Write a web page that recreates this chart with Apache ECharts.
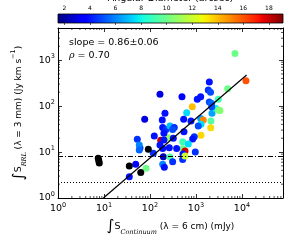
<!DOCTYPE html>
<html><head><meta charset="utf-8">
<script src="https://cdn.jsdelivr.net/npm/echarts@6/dist/echarts.min.js"></script>
<style>html,body{margin:0;padding:0;background:#fff}#c{width:293px;height:245px}</style>
</head><body><div id="c"></div>
<script>
// [continuum 6 cm (mJy), RRL 3 mm (Jy km/s), angular diameter (arcsec)]
const diamSources = [
  [7050,1400,10],[12200,355,16],[1950,333,4],[1850,223,4.5],[2070,201,5],[4890,238,10],
  [1265,159,4],[1067,140,4],[496,159,3.5],[165,180,3],[1950,122,5],[3050,140,9],
  [830,97,14],[628,71.5,7.5],[2195,114,5.5],[2230,69.4,6.5],[2720,89,8],[3110,80.7,10.5],
  [3325,79.8,10.5],[2195,96.6,5],[2120,47.2,9.5],[2090,33.7,13.5],[1265,54,6.5],[1440,49.6,15],
  [1285,40,7.5],[1120,36.7,5],[778,47.2,4],[540,51.4,4],[212,69.4,4],[185,49.6,4],
  [76.7,51.4,3],[189,34.4,4],[223,31.1,4.5],[272,36.7,7],[337,34.4,4.5],[311,31.1,5],
  [548,27.6,4],[1285,23.1,13.5],[918,21.5,4.5],[847,19.2,4],[124,22.3,4],[255,20.5,11],
  [171,18.0,18],[201,18.2,4],[321,19.9,4],[514,16.7,9],[680,14.9,7.5],[514,12.0,10],
  [380,12.0,4],[165,14.2,4],[189,12.0,4],[60.6,12.2,4.5],[263,12.4,4],[966,10.0,4.5],
  [577,10.5,18],[118,9.4,4.5],[195,7.9,2.5],[272,7.8,9.5],[522,9.05,4],[514,6.9,4.5],
  [577,8.2,12],[189,5.4,6],[205,4.65,4],[311,6.15,4.5],[48.9,5.4,3.5],[81.9,4.42,10],
  [35.5,2.9,4],[53,18.9,4.5],[58.5,14.2,6],[58.5,11.1,5.5],[201,25.5,4]
];
// sources without measured diameter (black)
const noDiamSources = [[7.5,7.3],[7.9,5.8],[7.7,6.5],[35.5,5.0],[63,3.6],[92,11.5]];
const fitSlope = 0.86, fitIntercept = -0.85, fitRange = [9.7, 12600];
const dashDotLevel = 8.3, dottedLevel = 2.15;
const xRange = [1, 78000], yRange = [1, 5000];
const cbRange = [1.5, 19.1];
const cbTicks = [2,4,6,8,10,12,14,16,18];
const slopeText = 'slope = 0.86\u00b10.06';
const rhoText = '0.70';

function jet(t){
  const segs = {
    r:[[0,0],[0.35,0],[0.66,1],[0.89,1],[1,0.5]],
    g:[[0,0],[0.125,0],[0.375,1],[0.64,1],[0.91,0],[1,0]],
    b:[[0,0.5],[0.11,1],[0.34,1],[0.65,0],[1,0]]
  };
  function f(s){ for(let i=1;i<s.length;i++){ if(t<=s[i][0]){ const a=s[i-1],b=s[i]; return a[1]+(b[1]-a[1])*(t-a[0])/(b[0]-a[0]); } } return s[s.length-1][1]; }
  return 'rgb('+Math.round(f(segs.r)*255)+','+Math.round(f(segs.g)*255)+','+Math.round(f(segs.b)*255)+')';
}
const jetColors = []; for(let i=0;i<64;i++) jetColors.push(jet(i/63));
const jetStops = jetColors.map((c,i)=>({offset:i/63,color:c}));

const fitLine = fitRange.map(x => [x, Math.pow(10, fitIntercept + fitSlope*Math.log10(x))]);
const minorX = [], minorY = [];
for(let k=0;k<5;k++) for(let m=2;m<10;m++){ const v=m*Math.pow(10,k); if(v<xRange[1]) minorX.push([v, yRange[0]]); if(v<yRange[1]) minorY.push([xRange[0], v]); }

const FONT = 'DejaVu Sans';
function powLabel(v){
  const l = Math.log10(v), e = Math.round(l);
  if (Math.abs(l-e) > 1e-6) return '';
  return '{b|10}{e|' + e + '}';
}
const tickRich = {
  b:{fontSize:9.5,fontFamily:FONT,color:'#000',lineHeight:14,verticalAlign:'middle'},
  e:{fontSize:6.5,fontFamily:FONT,color:'#000',lineHeight:8,verticalAlign:'top'}
};
const nameRich = {
  int:{fontSize:15,fontFamily:FONT,color:'#000',lineHeight:18,verticalAlign:'middle'},
  s:{fontSize:9.5,fontFamily:FONT,color:'#000',lineHeight:18,verticalAlign:'middle'},
  sub:{fontSize:6.5,fontFamily:'DejaVu Serif',fontStyle:'italic',color:'#000',lineHeight:11,verticalAlign:'bottom'},
  t:{fontSize:9,fontFamily:FONT,color:'#000',lineHeight:18,verticalAlign:'middle'},
  sup:{fontSize:6.5,fontFamily:FONT,color:'#000',lineHeight:11,verticalAlign:'top'}
};
const axisCommon = {
  axisLine:{show:true,onZero:false,lineStyle:{color:'#000',width:1}},
  axisTick:{show:true,inside:true,length:4,lineStyle:{color:'#000',width:0.8}},
  splitLine:{show:false}
};

function minorTick(horizontal){
  return function(params, api){
    const p = api.coord([api.value(0), api.value(1)]);
    const cs = params.coordSys;
    const st = {stroke:'#000', lineWidth:0.7};
    if (horizontal) {
      const b = cs.y + cs.height, t = cs.y;
      return {type:'group',children:[
        {type:'line',shape:{x1:p[0],y1:b,x2:p[0],y2:b-2},style:st},
        {type:'line',shape:{x1:p[0],y1:t,x2:p[0],y2:t+2},style:st}]};
    } else {
      const l = cs.x, r = cs.x + cs.width;
      return {type:'group',children:[
        {type:'line',shape:{x1:l,y1:p[1],x2:l+2,y2:p[1]},style:st},
        {type:'line',shape:{x1:r,y1:p[1],x2:r-2,y2:p[1]},style:st}]};
    }
  };
}

const chart = echarts.init(document.getElementById('c'), null, {renderer:'canvas'});
chart.setOption({
  animation:false,
  backgroundColor:'#fff',
  grid:[
    {left:58,right:10,top:28,bottom:47,outerBoundsMode:'none',containLabel:false},
    {left:58,right:10,top:14,height:9,outerBoundsMode:'none',containLabel:false}
  ],
  visualMap:{show:false,type:'continuous',dimension:2,min:cbRange[0],max:cbRange[1],seriesIndex:0,inRange:{color:jetColors}},
  xAxis:[
    Object.assign({type:'log',logBase:10,gridIndex:0,min:xRange[0],max:xRange[1],
      axisLabel:{formatter:powLabel,rich:tickRich,margin:4},
      name:'{int|\u222b}{s|S}{sub|Continuum}{t| (\u03bb = 6 cm) (mJy)}',
      nameLocation:'middle',nameGap:17,nameTextStyle:{rich:nameRich}}, axisCommon),
    Object.assign({type:'log',logBase:10,gridIndex:0,min:xRange[0],max:xRange[1],position:'top',
      axisLabel:{show:false}}, axisCommon),
    {type:'value',gridIndex:1,min:cbRange[0],max:cbRange[1],position:'top',
      axisLine:{show:false},splitLine:{show:false},
      axisTick:{show:true,inside:true,length:2,customValues:cbTicks,lineStyle:{color:'#000',width:0.6}},
      axisLabel:{customValues:cbTicks,fontSize:6,fontFamily:FONT,color:'#000',margin:3},
      name:'Angular Diameter (arcsec)',nameLocation:'middle',nameGap:10,
      nameTextStyle:{fontSize:9.5,fontFamily:FONT,color:'#000'}}
  ],
  yAxis:[
    Object.assign({type:'log',logBase:10,gridIndex:0,min:yRange[0],max:yRange[1],
      axisLabel:{formatter:powLabel,rich:tickRich,margin:3},
      name:'{int|\u222b}{s|S}{sub|RRL}{t| (\u03bb = 3 mm) (Jy km s}{sup|\u22121}{t|)}',
      nameLocation:'middle',nameGap:27,nameTextStyle:{rich:nameRich}}, axisCommon),
    Object.assign({type:'log',logBase:10,gridIndex:0,min:yRange[0],max:yRange[1],position:'right',
      axisLabel:{show:false}}, axisCommon),
    {type:'value',gridIndex:1,min:0,max:1,show:false}
  ],
  graphic:[
    {type:'text',left:69,top:38,style:{text:slopeText,fontSize:9.5,fontFamily:FONT,fill:'#000'}},
    {type:'text',left:69,top:51,style:{text:'{r|\u03c1}{n| = '+rhoText+'}',
      rich:{r:{fontSize:9.5,fontFamily:'DejaVu Serif',fontStyle:'italic',fill:'#000'},n:{fontSize:9.5,fontFamily:FONT,fill:'#000'}}}}
  ],
  series:[
    {type:'scatter',xAxisIndex:0,yAxisIndex:0,data:diamSources,symbolSize:7,itemStyle:{opacity:1},z:3},
    {type:'scatter',xAxisIndex:0,yAxisIndex:0,data:noDiamSources,symbolSize:7,itemStyle:{color:'#000',opacity:1},z:3},
    {type:'line',xAxisIndex:0,yAxisIndex:0,data:fitLine,showSymbol:false,symbol:'none',
      lineStyle:{color:'#000',width:1.2},z:4,
      markLine:{silent:true,symbol:'none',label:{show:false},animation:false,
        data:[
          {yAxis:dashDotLevel,lineStyle:{color:'#000',width:1,type:[5,2,1,2]}},
          {yAxis:dottedLevel,lineStyle:{color:'#000',width:1,type:[1,2]}}
        ]}},
    {type:'custom',xAxisIndex:0,yAxisIndex:0,data:minorX,renderItem:minorTick(true),silent:true,z:5},
    {type:'custom',xAxisIndex:0,yAxisIndex:0,data:minorY,renderItem:minorTick(false),silent:true,z:5},
    {type:'custom',xAxisIndex:2,yAxisIndex:2,data:[cbRange],silent:true,
      renderItem:function(params, api){
        const p0 = api.coord([api.value(0), 1]);
        const p1 = api.coord([api.value(1), 0]);
        return {type:'rect',shape:{x:p0[0],y:p0[1],width:p1[0]-p0[0],height:p1[1]-p0[1]},
          style:{fill:new echarts.graphic.LinearGradient(0,0,1,0,jetStops),stroke:'#000',lineWidth:0.8}};
      }}
  ]
});
</script></body></html>
